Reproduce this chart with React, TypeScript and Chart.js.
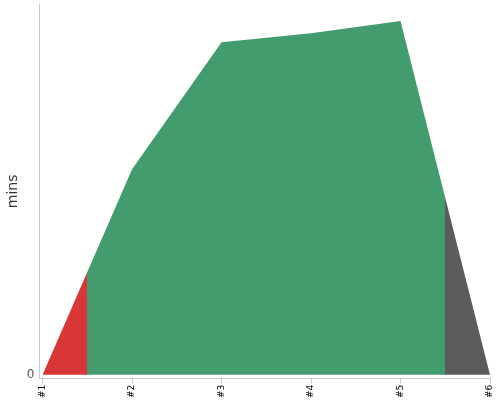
import React, { useRef, useEffect } from 'react';
import Chart from 'chart.js/auto';

const labels = ['#1', '#2', '#3', '#4', '#5', '#6'];
const minutes = [0, 55.4, 89.7, 92.1, 95.4, 0];
// colour bands along the x axis (split at the midpoints between runs)
const bandColors = ['#d83637', '#439c6e', '#5c5c5c'];
const bandEdges = [0.5, 4.5];

const App: React.FC = () => {
  const canvasRef = useRef<HTMLCanvasElement | null>(null);

  useEffect(() => {
    if (!canvasRef.current) return;
    const ctx = canvasRef.current.getContext('2d');
    if (!ctx) return;

    const chart = new Chart(ctx, {
      type: 'line',
      data: {
        datasets: [
          {
            label: 'mins',
            data: minutes.map((v, i) => ({ x: i, y: v })),
            fill: 'origin',
            borderWidth: 0,
            pointRadius: 0,
            tension: 0,
            backgroundColor: (context: any) => {
              const { chart } = context;
              const area = chart.chartArea;
              const xs = chart.scales.x;
              if (!area || !xs) return bandColors[1];
              const g = chart.ctx.createLinearGradient(area.left, 0, area.right, 0);
              const w = area.right - area.left;
              const s1 = (xs.getPixelForValue(bandEdges[0]) - area.left) / w;
              const s2 = (xs.getPixelForValue(bandEdges[1]) - area.left) / w;
              g.addColorStop(0, bandColors[0]);
              g.addColorStop(s1, bandColors[0]);
              g.addColorStop(s1, bandColors[1]);
              g.addColorStop(s2, bandColors[1]);
              g.addColorStop(s2, bandColors[2]);
              g.addColorStop(1, bandColors[2]);
              return g;
            },
          },
        ],
      },
      options: {
        animation: false,
        responsive: true,
        maintainAspectRatio: false,
        layout: { padding: { top: 4, right: 10, left: 5, bottom: 1 } },
        plugins: {
          legend: { display: false },
          tooltip: { enabled: false },
        },
        scales: {
          x: {
            type: 'linear',
            min: -0.035,
            max: 5,
            border: { display: true, color: '#c8c8c8' },
            grid: {
              display: true,
              drawOnChartArea: false,
              drawTicks: true,
              tickLength: 5,
              color: '#c8c8c8',
            },
            afterFit: (axis: any) => {
              axis.paddingRight = 0;
            },
            ticks: {
              stepSize: 1,
              includeBounds: false,
              autoSkip: false,
              minRotation: 90,
              maxRotation: 90,
              padding: 1,
              color: '#000',
              font: { family: 'DejaVu Sans', size: 9 },
              callback: (v: any) => labels[v] ?? '',
            },
          },
          y: {
            min: -1.1,
            max: 100,
            border: { display: true, color: '#c8c8c8' },
            grid: { display: false, drawTicks: false },
            afterBuildTicks: (axis: any) => {
              // only the zero line is labelled
              axis.ticks = axis.ticks.filter((t: any) => t.value === 0);
            },
            afterFit: (axis: any) => {
              axis.paddingTop = 0;
            },
            ticks: {
              stepSize: 1,
              autoSkip: false,
              color: '#555',
              padding: 5,
              font: { family: 'DejaVu Sans', size: 12 },
            },
            title: {
              display: true,
              text: 'mins',
              color: '#333',
              padding: { top: 0, bottom: 0 },
              font: { family: 'DejaVu Sans', size: 14 },
            },
          },
        },
      },
    });

    return () => {
      chart.destroy();
    };
  }, []);

  return (
    <div style={{ position: 'fixed', left: 0, top: 0, width: 500, height: 400, background: '#fff' }}>
      <canvas ref={canvasRef}></canvas>
    </div>
  );
};

export default App;
